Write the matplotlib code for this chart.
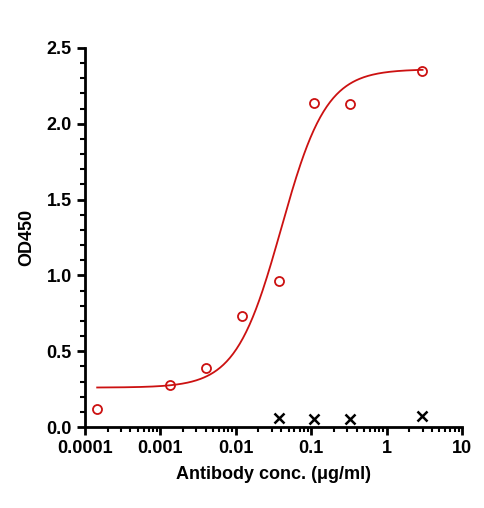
import numpy as np
import matplotlib
matplotlib.use("Agg")
import matplotlib.pyplot as plt
from matplotlib.ticker import LogLocator, FixedLocator, MultipleLocator, FixedFormatter

conc = [0.000145, 0.00134, 0.004, 0.012, 0.037, 0.11, 0.33, 2.95]
od = [0.12, 0.28, 0.39, 0.73, 0.96, 2.14, 2.13, 2.35]
neg_conc = [0.037, 0.11, 0.33, 2.95]
neg_od = [0.06, 0.05, 0.05, 0.07]
# 4PL fit parameters: bottom, top, EC50, hill
fit_bottom, fit_top, fit_ec50, fit_hill = 0.26, 2.36, 0.040, 1.45

plt.rcParams['font.family'] = ['Liberation Sans', 'DejaVu Sans']
fig = plt.figure(figsize=(4.85, 5.08), dpi=100)
ax = fig.add_axes([85/485, 1-427/508, 377/485, 379/508])

xf = np.logspace(np.log10(0.000145), np.log10(3.0), 300)
yf = fit_bottom + (fit_top - fit_bottom) / (1 + (fit_ec50 / xf) ** fit_hill)
ax.plot(xf, yf, color='#cc1111', lw=1.3)
ax.plot(conc, od, 'o', mfc='none', mec='#cc1111', mew=1.3, ms=6.5)
ax.plot(neg_conc, neg_od, 'x', color='black', mew=1.8, ms=7)

ax.set_xscale('log')
ax.set_xlim(1e-4, 10)
ax.set_ylim(0, 2.5)
ax.xaxis.set_major_locator(FixedLocator([1e-4, 1e-3, 1e-2, 0.1, 1, 10]))
ax.xaxis.set_major_formatter(FixedFormatter(['0.0001', '0.001', '0.01', '0.1', '1', '10']))
ax.xaxis.set_minor_locator(LogLocator(subs=np.arange(2, 10)))
ax.yaxis.set_major_locator(MultipleLocator(0.5))
ax.yaxis.set_major_formatter(plt.FuncFormatter(lambda v, p: f"{v:.1f}"))
ax.yaxis.set_minor_locator(MultipleLocator(0.1))
for s in ['top', 'right']:
    ax.spines[s].set_visible(False)
for s in ['left', 'bottom']:
    ax.spines[s].set_linewidth(2)
ax.tick_params(which='major', length=6, width=2, labelsize=13)
ax.tick_params(which='minor', length=3.5, width=1.5)
for lab in ax.get_xticklabels() + ax.get_yticklabels():
    lab.set_fontweight('bold')
ax.set_xlabel('Antibody conc. (μg/ml)', fontsize=13, fontweight='bold', labelpad=6)
ax.set_ylabel('OD450', fontsize=13, fontweight='bold', labelpad=8)
fig.savefig('out.png', dpi=100)
